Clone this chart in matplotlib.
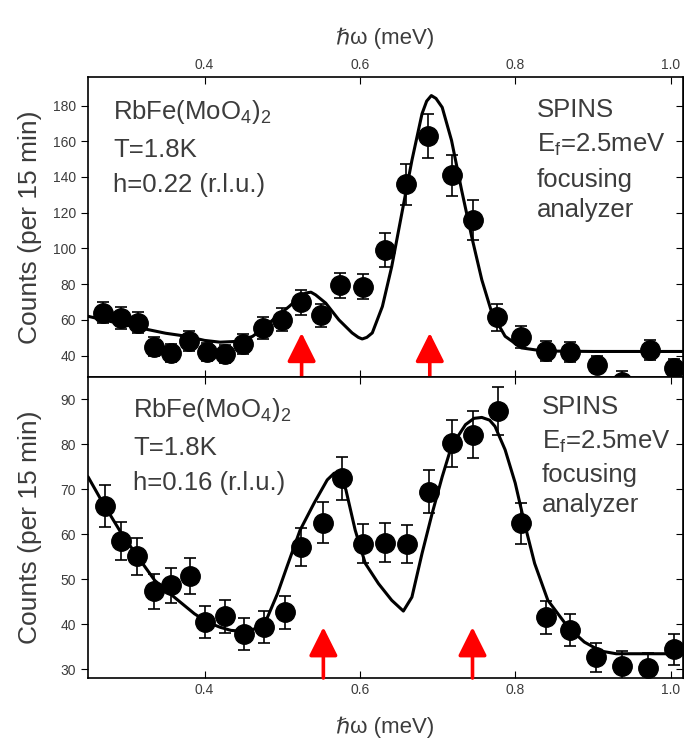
import matplotlib
matplotlib.use("Agg")
import matplotlib.pyplot as plt

plt.rcParams['font.family'] = ['Liberation Sans', 'DejaVu Sans']
plt.rcParams['mathtext.default'] = 'regular'

# measured points, top panel (h = 0.22)
x_top = [0.269, 0.293, 0.315, 0.335, 0.357, 0.380, 0.403, 0.426, 0.450, 0.475,
         0.500, 0.524, 0.550, 0.575, 0.604, 0.632, 0.660, 0.688, 0.718, 0.746,
         0.777, 0.808, 0.840, 0.871, 0.905, 0.938, 0.973, 1.005]
y_top = [64, 61, 58.5, 45, 41.5, 48, 42, 41, 46.5, 55.5,
         60, 70, 62.5, 79.5, 78.5, 99, 136, 163, 141, 116,
         61.5, 50.5, 42.5, 42, 35, 25, 43, 33]
e_top = [6, 6, 6, 5.5, 5, 5.5, 5, 5, 5.5, 6,
         6.5, 7, 6.5, 7, 7, 9.5, 11.5, 12.5, 11.5, 11,
         7.5, 6, 5.5, 5.5, 5, 6.5, 5.5, 5]

# fit curve, top panel
xc_top = [0.250, 0.300, 0.350, 0.377, 0.400, 0.420, 0.445, 0.462, 0.475, 0.488,
          0.509, 0.522, 0.530, 0.537, 0.543, 0.556, 0.573, 0.590, 0.598, 0.603,
          0.609, 0.616, 0.629, 0.641, 0.654, 0.667, 0.680, 0.686, 0.692, 0.698,
          0.706, 0.718, 0.731, 0.744, 0.757, 0.770, 0.787, 0.808, 0.829, 0.850,
          0.900, 1.020]
yc_top = [62, 57, 52.5, 50.8, 48.5, 47.5, 48, 50.8, 55, 60,
          67.5, 72.5, 75, 75.5, 74, 69.4, 60, 52.7, 50.2, 49.3,
          50.2, 52.7, 67.5, 89.8, 119.6, 149.3, 175.4, 182.5, 185.6, 184,
          179, 160.5, 132.6, 106.5, 82.4, 63.8, 50.8, 44.3, 43, 42.5,
          42.3, 42.3]

# measured points, bottom panel (h = 0.16)
x_bot = [0.272, 0.293, 0.313, 0.335, 0.357, 0.381, 0.401, 0.427, 0.451, 0.476,
         0.503, 0.524, 0.552, 0.577, 0.604, 0.632, 0.661, 0.689, 0.718, 0.746,
         0.778, 0.808, 0.840, 0.871, 0.904, 0.938, 0.971, 1.005]
y_bot = [66.3, 58.5, 55.1, 47.3, 48.6, 50.6, 40.4, 41.7, 37.8, 39.3,
         42.6, 57.2, 62.6, 72.5, 57.9, 58.1, 57.8, 69.5, 80.2, 82.2,
         87.4, 62.4, 41.5, 38.7, 32.6, 30.7, 30.3, 34.4]
e_bot = [4.7, 4.2, 4.1, 3.9, 3.9, 4.0, 3.6, 3.7, 3.5, 3.6,
         3.7, 4.3, 4.5, 4.8, 4.3, 4.3, 4.3, 4.7, 5.2, 5.2,
         5.4, 4.5, 3.7, 3.6, 3.3, 3.2, 3.2, 3.4]

# fit curve, bottom panel
xc_bot = [0.250, 0.267, 0.293, 0.314, 0.336, 0.361, 0.387, 0.404, 0.420, 0.434,
          0.450, 0.464, 0.481, 0.494, 0.506, 0.523, 0.541, 0.558, 0.567, 0.574,
          0.582, 0.594, 0.607, 0.624, 0.641, 0.656, 0.667, 0.680, 0.693, 0.706,
          0.718, 0.736, 0.747, 0.757, 0.767, 0.774, 0.787, 0.800, 0.812, 0.825,
          0.842, 0.868, 0.889, 0.910, 0.930, 1.020]
yc_bot = [72.8, 67.6, 60.2, 55, 49.7, 46, 42.3, 40.4, 39.3, 38.6,
          38.4, 38.9, 41.5, 46.8, 52.7, 60.9, 66.9, 72.1, 73.6, 73.6,
          69.9, 60.9, 53.5, 49, 45.3, 42.9, 46, 55.7, 64.6, 72.8,
          79.6, 84.4, 85.8, 86, 85.4, 84, 78.8, 71.4, 62.4, 53.5,
          45.3, 39.3, 36, 34, 33.4, 33.4]

arrows_top = [0.525, 0.690]
arrows_bot = [0.553, 0.745]

xticks = [0.4, 0.6, 0.8, 1.0]
xticklabels = ["0.4", "0.6", "0.8", "1.0"]

W, H = 684, 752
fig = plt.figure(figsize=(W / 100, H / 100), dpi=100)


def box(l, t, r, b):
    return [l / W, 1 - b / H, (r - l) / W, (b - t) / H]


ax1 = fig.add_axes(box(88, 77, 683, 377))
ax2 = fig.add_axes(box(88, 377, 683, 678))

gray = '#3c3c3c'

for ax, xs, ys, es, xc, yc in [(ax1, x_top, y_top, e_top, xc_top, yc_top),
                                (ax2, x_bot, y_bot, e_bot, xc_bot, yc_bot)]:
    ax.plot(xc, yc, color='black', lw=2.2, zorder=2,
            solid_joinstyle='round', solid_capstyle='round')
    ax.errorbar(xs, ys, yerr=es, fmt='o', color='black', ms=14, elinewidth=1.2,
                capsize=4.5, capthick=1.2, zorder=3)
    ax.set_xlim(0.25, 1.016)
    ax.set_xticks(xticks)
    ax.tick_params(axis='x', direction='in', top=True, bottom=True, length=5,
                   labelsize=10, labelcolor=gray)
    ax.tick_params(axis='y', direction='out', right=False, length=5,
                   labelsize=10, labelcolor=gray)
    for s in ax.spines.values():
        s.set_linewidth(1.2)

ax1.set_ylim(28, 196)
ax1.set_yticks(range(40, 181, 20))
ax1.xaxis.tick_top()
ax1.tick_params(axis='x', direction='in', top=True, bottom=True)
ax1.set_xticklabels(xticklabels)
ax1.set_xlabel("\u210f\u03c9 (meV)", fontsize=16, color=gray, labelpad=10)
ax1.xaxis.set_label_position('top')

ax2.set_ylim(28, 95)
ax2.set_yticks(range(30, 91, 10))
ax2.set_xticklabels(xticklabels)
ax2.set_xlabel("\u210f\u03c9 (meV)", fontsize=16, color=gray, labelpad=14)

# right-side ticks inward
for ax in (ax1, ax2):
    sec = ax.secondary_yaxis('right')
    sec.set_yticks(ax.get_yticks())
    sec.tick_params(direction='in', length=5, labelright=False)

# red arrows
for ax, xs, tip, base in [(ax1, arrows_top, 0.147, -0.017), (ax2, arrows_bot, 0.169, 0.0)]:
    for xa in xs:
        ax.annotate('', xy=(xa, tip), xytext=(xa, base),
                    xycoords=ax.get_xaxis_transform(),
                    textcoords=ax.get_xaxis_transform(),
                    arrowprops=dict(arrowstyle='-|>,head_length=0.4,head_width=0.2',
                                    color='red', lw=2.6, mutation_scale=44,
                                    shrinkA=0, shrinkB=0),
                    annotation_clip=False, zorder=5)

# y labels
for yc in (227, 527):
    fig.text(30 / W, 1 - yc / H, "Counts (per 15 min)", rotation=90,
             fontsize=19, color=gray, ha='center', va='center')


def txt(x, y, s):
    fig.text(x / W, 1 - y / H, s, fontsize=18.5, color=gray, ha='left', va='center')


txt(113, 112, "RbFe(MoO$_4$)$_2$")
txt(113, 150, "T=1.8K")
txt(113, 185, "h=0.22 (r.l.u.)")
txt(537, 110, "SPINS")
txt(537, 145, "E$_f$=2.5meV")
txt(537, 180, "focusing")
txt(537, 210, "analyzer")

txt(133, 410, "RbFe(MoO$_4$)$_2$")
txt(133, 448, "T=1.8K")
txt(133, 483, "h=0.16 (r.l.u.)")
txt(542, 407, "SPINS")
txt(542, 442, "E$_f$=2.5meV")
txt(542, 475, "focusing")
txt(542, 505, "analyzer")

fig.savefig("out.png", dpi=100)
